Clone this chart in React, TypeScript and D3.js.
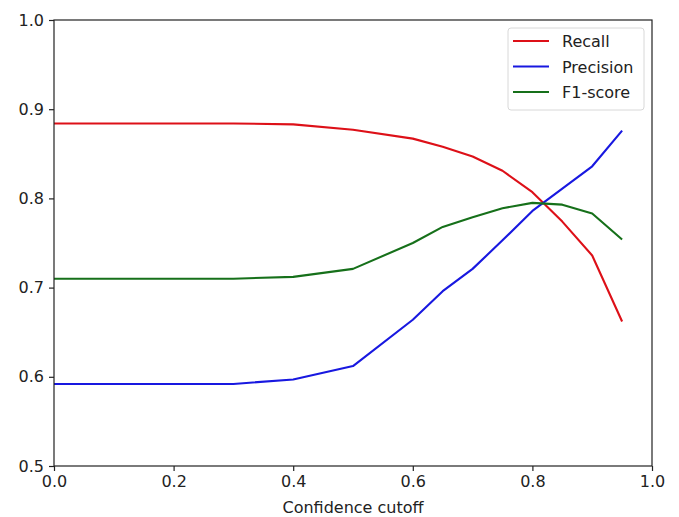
import React, { useEffect, useRef } from "react";
import * as d3 from "d3";

// cutoff values and the three metric series
const cutoffs = [0.0, 0.1, 0.2, 0.3, 0.4, 0.5, 0.6, 0.65, 0.7, 0.75, 0.8, 0.85, 0.9, 0.95];
const recall = [0.884, 0.884, 0.884, 0.884, 0.883, 0.877, 0.867, 0.858, 0.847, 0.831, 0.807, 0.774, 0.736, 0.662];
const precision = [0.592, 0.592, 0.592, 0.592, 0.597, 0.612, 0.664, 0.696, 0.721, 0.753, 0.786, 0.811, 0.836, 0.876];
const f1 = [0.71, 0.71, 0.71, 0.71, 0.712, 0.721, 0.75, 0.768, 0.779, 0.789, 0.795, 0.793, 0.783, 0.754];

const seriesNames = ["Recall", "Precision", "F1-score"];
const xTicks = [0.0, 0.2, 0.4, 0.6, 0.8, 1.0];
const yTicks = [0.5, 0.6, 0.7, 0.8, 0.9, 1.0];

const colors = ["#dd1018", "#1818e0", "#16701a"];

export default function App() {
  const ref = useRef<SVGSVGElement>(null);

  useEffect(() => {
    const width = 679;
    const height = 517;
    const margin = { top: 20, right: 27, bottom: 51, left: 54 };
    const font = "DejaVu Sans, sans-serif";

    const svg = d3.select(ref.current);
    svg.selectAll("*").remove();

    const x = d3.scaleLinear().domain([0, 1]).range([margin.left, width - margin.right]);
    const y = d3.scaleLinear().domain([0.5, 1]).range([height - margin.bottom, margin.top]);

    svg.append("rect").attr("width", width).attr("height", height).attr("fill", "#fff");

    const data = [recall, precision, f1];
    const line = d3
      .line<number>()
      .x((d, i) => x(cutoffs[i]))
      .y((d) => y(d));

    data.forEach((s, k) => {
      svg
        .append("path")
        .datum(s)
        .attr("d", line)
        .attr("fill", "none")
        .attr("stroke", colors[k])
        .attr("stroke-width", 2.1)
        .attr("stroke-linejoin", "round");
    });

    // frame
    svg
      .append("rect")
      .attr("x", x(0))
      .attr("y", y(1))
      .attr("width", x(1) - x(0))
      .attr("height", y(0.5) - y(1))
      .attr("fill", "none")
      .attr("stroke", "#222")
      .attr("stroke-width", 1.2);

    const xAxis = svg
      .append("g")
      .attr("transform", `translate(0,${y(0.5)})`)
      .call(d3.axisBottom(x).tickValues(xTicks).tickFormat(d3.format(".1f")).tickSize(5).tickPadding(5));
    const yAxis = svg
      .append("g")
      .attr("transform", `translate(${x(0)},0)`)
      .call(d3.axisLeft(y).tickValues(yTicks).tickFormat(d3.format(".1f")).tickSize(5).tickPadding(5));

    [xAxis, yAxis].forEach((a) => {
      a.select(".domain").remove();
      a.selectAll("line").attr("stroke", "#222").attr("stroke-width", 1.2);
      a.selectAll("text").attr("fill", "#222").style("font-family", font).style("font-size", "16px");
    });

    svg
      .append("text")
      .attr("x", (x(0) + x(1)) / 2)
      .attr("y", height - 4)
      .attr("text-anchor", "middle")
      .style("font-family", font)
      .style("font-size", "16px")
      .attr("fill", "#222")
      .text("Confidence cutoff");

    // legend
    const lg = svg.append("g").attr("transform", "translate(508,28)");
    lg.append("rect")
      .attr("width", 136)
      .attr("height", 82)
      .attr("rx", 3)
      .attr("fill", "#fff")
      .attr("fill-opacity", 0.8)
      .attr("stroke", "#d8d8d8");
    seriesNames.forEach((name, i) => {
      const cy = 13 + i * 25.5;
      lg.append("line")
        .attr("x1", 5)
        .attr("x2", 41)
        .attr("y1", cy)
        .attr("y2", cy)
        .attr("stroke", colors[i])
        .attr("stroke-width", 2.1);
      lg.append("text")
        .attr("x", 54)
        .attr("y", cy + 6)
        .style("font-family", font)
        .style("font-size", "16px")
        .attr("fill", "#222")
        .text(name);
    });
  }, []);

  return (
    <svg
      ref={ref}
      width={679}
      height={517}
      style={{ display: "block", position: "fixed", left: 0, top: 0 }}
    />
  );
}
